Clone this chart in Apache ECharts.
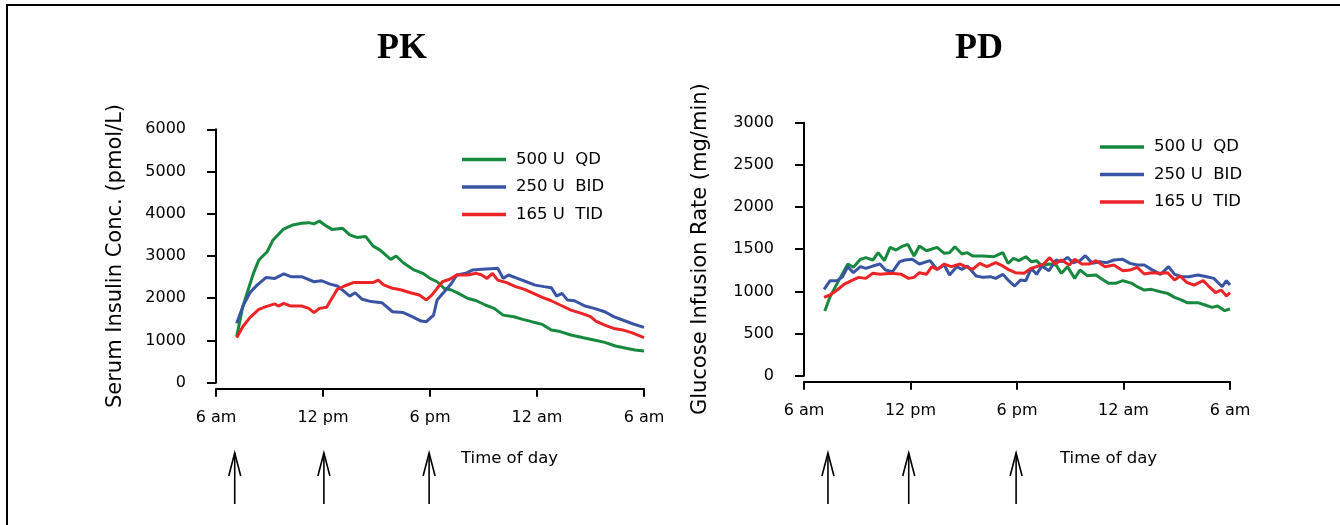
<!DOCTYPE html>
<html>
<head>
<meta charset="utf-8">
<script src="https://cdn.jsdelivr.net/npm/echarts@6/dist/echarts.min.js"></script>
<style>
  html, body { margin: 0; padding: 0; background: #fff; }
  #chart { width: 1340px; height: 525px; }
</style>
</head>
<body>
<div id="chart"></div>
<script>
// 时间轴：0 = 早上6点，24 = 次日早上6点（单位：小时）
const timeLabels = ['6 am', '12 pm', '6 pm', '12 am', '6 am']
const seriesNames = ['500 U  QD', '250 U  BID', '165 U  TID']
const seriesColors = ['#16893e', '#3a54a4', '#ec2428']

// 给药时间（箭头）
const pkDoseHours = [1.05, 6.05, 11.95]
const pdDoseHours = [1.35, 5.9, 11.95]

// PK 血清胰岛素浓度 (pmol/L)
const pkQdHours = [1.16, 1.5, 2.1, 2.4, 2.87, 3.2, 3.77, 4.31, 4.8, 5.2, 5.5, 5.8, 6.1, 6.5, 7.1, 7.5, 7.9, 8.4, 8.8, 9.2, 9.8, 10.1, 10.5, 11.1, 11.6, 12.0, 12.4, 12.8, 13.2, 13.6, 14.1, 14.6, 15.1, 15.6, 16.1, 16.7, 17.2, 17.7, 18.3, 18.8, 19.3, 19.9, 20.6, 21.2, 21.8, 22.4, 23.0, 23.5, 24]
const pkQdValues = [1090, 1800, 2590, 2905, 3100, 3380, 3630, 3735, 3775, 3790, 3760, 3830, 3735, 3630, 3655, 3500, 3440, 3460, 3240, 3140, 2920, 3000, 2840, 2670, 2590, 2470, 2390, 2230, 2195, 2115, 2000, 1940, 1840, 1760, 1600, 1560, 1500, 1445, 1380, 1250, 1210, 1130, 1065, 1010, 955, 870, 815, 775, 750]

const pkBidHours = [1.16, 1.5, 1.9, 2.3, 2.8, 3.3, 3.8, 4.2, 4.8, 5.5, 5.9, 6.4, 6.8, 7.2, 7.5, 7.8, 8.2, 8.7, 9.3, 9.9, 10.5, 11.0, 11.5, 11.8, 12.2, 12.4, 12.8, 13.2, 13.5, 14.0, 14.4, 14.9, 15.4, 15.8, 16.1, 16.4, 16.9, 17.4, 17.9, 18.4, 18.8, 19.1, 19.4, 19.7, 20.1, 20.7, 21.2, 21.8, 22.3, 22.8, 23.4, 24]
const pkBidValues = [1405, 1800, 2130, 2310, 2490, 2470, 2575, 2510, 2510, 2390, 2415, 2335, 2290, 2155, 2050, 2130, 1975, 1920, 1895, 1680, 1660, 1565, 1460, 1445, 1600, 1960, 2155, 2350, 2550, 2590, 2670, 2685, 2700, 2710, 2470, 2550, 2470, 2390, 2310, 2275, 2250, 2050, 2115, 1960, 1940, 1815, 1760, 1680, 1565, 1485, 1390, 1310]

const pkTidHours = [1.16, 1.5, 1.9, 2.4, 2.8, 3.3, 3.5, 3.8, 4.2, 4.8, 5.2, 5.5, 5.8, 6.2, 6.5, 6.8, 7.2, 7.7, 8.3, 8.8, 9.1, 9.4, 9.9, 10.4, 10.9, 11.4, 11.8, 12.1, 12.4, 12.7, 13.1, 13.5, 14.1, 14.6, 14.9, 15.2, 15.5, 15.8, 16.3, 16.8, 17.3, 17.8, 18.3, 18.8, 19.3, 19.9, 20.5, 21.0, 21.3, 21.8, 22.3, 22.8, 23.3, 24]
const pkTidValues = [1065, 1325, 1540, 1735, 1800, 1865, 1815, 1880, 1815, 1815, 1760, 1660, 1760, 1785, 2000, 2210, 2290, 2370, 2370, 2370, 2430, 2315, 2235, 2195, 2130, 2075, 1960, 2075, 2235, 2390, 2450, 2550, 2550, 2590, 2550, 2470, 2590, 2430, 2370, 2275, 2210, 2115, 2020, 1940, 1840, 1720, 1640, 1565, 1460, 1365, 1285, 1250, 1185, 1065]

// PD 葡萄糖输注速率 (mg/min)
const pdQdHours = [1.17, 1.47, 1.87, 2.47, 2.78, 3.18, 3.48, 3.88, 4.18, 4.53, 4.85, 5.19, 5.49, 5.85, 6.2, 6.5, 6.9, 7.5, 7.9, 8.2, 8.5, 8.9, 9.2, 9.5, 10.1, 10.7, 11.2, 11.5, 11.8, 12.1, 12.5, 12.8, 13.1, 13.4, 13.8, 14.2, 14.5, 14.85, 15.25, 15.55, 15.95, 16.45, 16.86, 17.16, 17.56, 17.96, 18.47, 18.77, 19.17, 19.57, 20.08, 20.48, 20.88, 21.28, 21.58, 22.19, 22.59, 22.99, 23.3, 23.7, 24]
const pdQdValues = [767, 937, 1095, 1324, 1285, 1380, 1400, 1372, 1459, 1364, 1522, 1490, 1530, 1557, 1419, 1538, 1482, 1522, 1451, 1459, 1530, 1443, 1459, 1419, 1419, 1411, 1459, 1332, 1391, 1364, 1411, 1352, 1364, 1300, 1324, 1312, 1214, 1293, 1154, 1253, 1186, 1194, 1135, 1095, 1095, 1127, 1095, 1055, 1016, 1024, 996, 976, 929, 897, 866, 866, 838, 810, 826, 771, 791]

const pdBidHours = [1.13, 1.47, 1.87, 2.17, 2.47, 2.78, 3.18, 3.48, 3.88, 4.28, 4.59, 4.99, 5.39, 5.69, 6.1, 6.5, 7.1, 7.5, 7.9, 8.2, 8.6, 8.9, 9.2, 9.7, 10.1, 10.5, 10.8, 11.2, 11.5, 11.87, 12.2, 12.5, 12.8, 13.1, 13.4, 13.8, 14.2, 14.5, 14.85, 15.15, 15.55, 15.85, 16.25, 16.66, 17.06, 17.46, 17.96, 18.37, 18.77, 19.17, 19.57, 20.08, 20.54, 20.88, 21.28, 21.68, 22.19, 22.69, 23.09, 23.56, 23.8, 24]
const pdBidValues = [1024, 1127, 1127, 1174, 1293, 1221, 1293, 1273, 1300, 1324, 1253, 1233, 1352, 1372, 1380, 1324, 1364, 1261, 1312, 1194, 1293, 1261, 1300, 1182, 1166, 1174, 1154, 1202, 1134, 1063, 1134, 1127, 1273, 1202, 1300, 1245, 1372, 1352, 1403, 1340, 1364, 1423, 1332, 1352, 1340, 1372, 1380, 1332, 1312, 1312, 1261, 1202, 1293, 1202, 1174, 1174, 1194, 1174, 1154, 1055, 1127, 1075]

const pdTidHours = [1.13, 1.47, 1.87, 2.27, 2.68, 3.08, 3.48, 3.88, 4.28, 4.89, 5.49, 5.89, 6.2, 6.5, 6.9, 7.2, 7.5, 7.9, 8.3, 8.8, 9.1, 9.5, 9.9, 10.3, 10.8, 11.1, 11.5, 11.9, 12.4, 12.8, 13.1, 13.5, 13.84, 14.14, 14.5, 14.95, 15.25, 15.65, 16.05, 16.45, 16.96, 17.46, 17.96, 18.37, 18.77, 19.17, 19.57, 20.08, 20.48, 20.88, 21.18, 21.58, 21.97, 22.49, 22.79, 23.19, 23.5, 23.8, 24]
const pdTidValues = [929, 957, 1016, 1087, 1127, 1166, 1154, 1214, 1202, 1214, 1202, 1154, 1166, 1221, 1202, 1293, 1261, 1324, 1293, 1324, 1293, 1261, 1332, 1293, 1340, 1312, 1261, 1221, 1214, 1273, 1293, 1324, 1400, 1324, 1372, 1312, 1380, 1324, 1324, 1364, 1293, 1312, 1245, 1253, 1285, 1206, 1221, 1214, 1221, 1135, 1182, 1103, 1075, 1127, 1063, 984, 1016, 945, 984]

const SANS = 'DejaVu Sans'

// 把小时和数值拼成 [x, y]
const zip = function (xs, ys) {
  return xs.map((x, i) => [x, ys[i]])
}

const makeX = function (gridIndex) {
  return {
    type: 'value',
    gridIndex: gridIndex,
    min: 0,
    max: 24,
    interval: 6,
    offset: 6,
    axisLine: { onZero: false, lineStyle: { color: '#000', width: 2 } },
    axisTick: { length: 8, lineStyle: { color: '#000', width: 2 } },
    axisLabel: {
      margin: 21,
      color: '#000',
      fontFamily: SANS,
      fontSize: 16,
      formatter: v => timeLabels[v / 6]
    },
    splitLine: { show: false }
  }
}

const makeY = function (gridIndex, name, max, interval, gap) {
  return {
    type: 'value',
    gridIndex: gridIndex,
    min: 0,
    max: max,
    interval: interval,
    offset: 10,
    name: name,
    nameLocation: 'middle',
    nameGap: gap,
    nameTextStyle: { color: '#000', fontFamily: SANS, fontSize: 21 },
    axisLine: { show: true, lineStyle: { color: '#000', width: 2 } },
    axisTick: { show: true, length: 9, lineStyle: { color: '#000', width: 2 } },
    axisLabel: {
      margin: 20,
      color: '#000',
      fontFamily: SANS,
      fontSize: 16,
      formatter: v => String(v)
    },
    splitLine: { show: false }
  }
}

const makeLegend = function (left, top) {
  return {
    data: seriesNames,
    orient: 'vertical',
    left: left,
    top: top,
    icon: 'rect',
    itemWidth: 44,
    itemHeight: 3.5,
    itemGap: 10.5,
    textStyle: { color: '#000', fontFamily: SANS, fontSize: 16.5, padding: [0, 0, 0, 5] }
  }
}

const makeLine = function (name, color, xi, data) {
  return {
    name: name,
    type: 'line',
    xAxisIndex: xi,
    yAxisIndex: xi,
    data: data,
    symbol: 'none',
    color: color,
    lineStyle: { color: color, width: 3 },
    z: 3,
    animation: false
  }
}

const titleStyle = { color: '#000', fontFamily: 'Liberation Serif', fontWeight: 'bold', fontSize: 36 }

let myChart = echarts.init(document.getElementById('chart'))
let option = {
  animation: false,
  backgroundColor: '#fff',
  title: [
    { text: 'PK', left: 397, top: 26, textAlign: 'center', textStyle: titleStyle },
    { text: 'PD', left: 974, top: 26, textAlign: 'center', textStyle: titleStyle }
  ],
  legend: [makeLegend(457, 146), makeLegend(1095, 133.5)],
  grid: [
    { left: 216, right: 696, top: 129.3, bottom: 142.3, containLabel: false, outerBoundsMode: 'none' },
    { left: 804, right: 110, top: 122.7, bottom: 149.3, containLabel: false, outerBoundsMode: 'none' }
  ],
  xAxis: [makeX(0), makeX(1)],
  yAxis: [
    makeY(0, 'Serum Insulin Conc. (pmol/L)', 6000, 1000, 80),
    makeY(1, 'Glucose Infusion Rate (mg/min)', 3000, 500, 83)
  ],
  series: [
    makeLine(seriesNames[0], seriesColors[0], 0, zip(pkQdHours, pkQdValues)),
    makeLine(seriesNames[1], seriesColors[1], 0, zip(pkBidHours, pkBidValues)),
    makeLine(seriesNames[2], seriesColors[2], 0, zip(pkTidHours, pkTidValues)),
    makeLine(seriesNames[0], seriesColors[0], 1, zip(pdQdHours, pdQdValues)),
    makeLine(seriesNames[1], seriesColors[1], 1, zip(pdBidHours, pdBidValues)),
    makeLine(seriesNames[2], seriesColors[2], 1, zip(pdTidHours, pdTidValues))
  ]
}
myChart.setOption(option)

// 箭头（给药时间）和 "Time of day" 标注
const arrowTop = 453
const arrowBottom = 504
const makeArrow = function (x) {
  return [
    { type: 'line', shape: { x1: x, y1: arrowTop, x2: x, y2: arrowBottom }, style: { stroke: '#000', lineWidth: 1.6 } },
    { type: 'polyline', shape: { points: [[x - 6, arrowTop + 23], [x, arrowTop], [x + 6, arrowTop + 23]] }, style: { stroke: '#000', lineWidth: 1.6, fill: null } }
  ]
}
let graphics = [
  { type: 'polyline', shape: { points: [[7, 525], [7, 5], [1340, 5]] }, style: { stroke: '#000', lineWidth: 2, fill: null } },
  { type: 'text', x: 461, y: 459, style: { text: 'Time of day', fill: '#000', font: '16.5px "DejaVu Sans"', textVerticalAlign: 'middle' } },
  { type: 'text', x: 1060, y: 459, style: { text: 'Time of day', fill: '#000', font: '16.5px "DejaVu Sans"', textVerticalAlign: 'middle' } }
]
pkDoseHours.forEach(h => {
  graphics = graphics.concat(makeArrow(myChart.convertToPixel({ xAxisIndex: 0 }, h)))
})
pdDoseHours.forEach(h => {
  graphics = graphics.concat(makeArrow(myChart.convertToPixel({ xAxisIndex: 1 }, h)))
})
myChart.setOption({ graphic: graphics })
</script>
</body>
</html>
